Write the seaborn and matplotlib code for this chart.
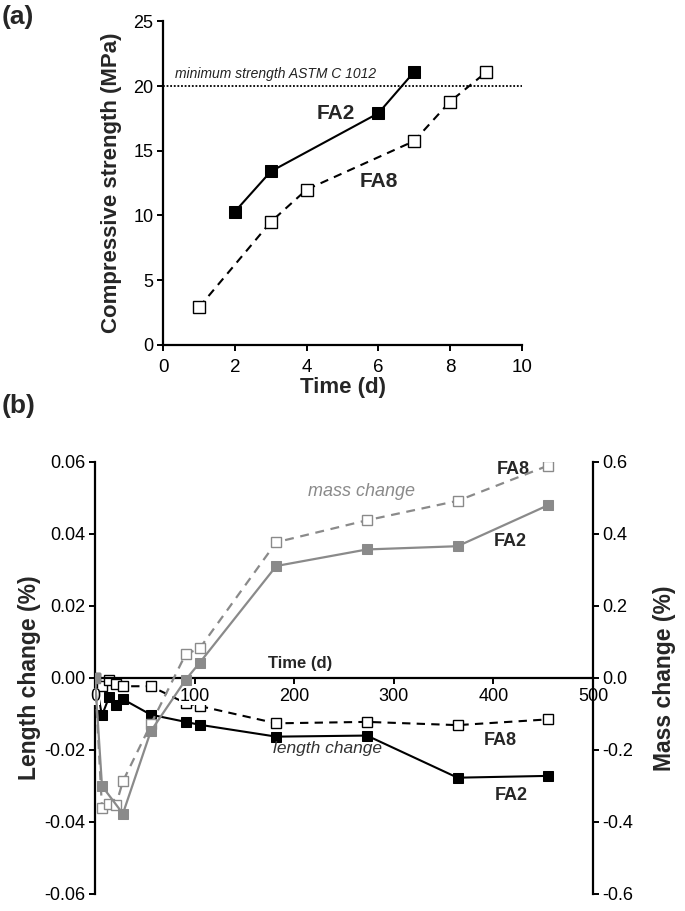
import matplotlib
matplotlib.use("Agg")
import matplotlib.pyplot as plt
import seaborn as sns
import numpy as np
import pandas as pd

# ---------------- data ----------------
# panel (a): compressive strength
days_fa2_a = [2, 3, 6, 7]
strength_fa2 = [10.3, 13.4, 17.9, 21.1]
days_fa8_a = [1, 3, 4, 7, 8, 9]
strength_fa8 = [2.9, 9.5, 12.0, 15.75, 18.8, 21.05]
astm_min = 20

# panel (b): length and mass change
days_b = [0, 7, 14, 21, 28, 56, 91, 105, 182, 273, 364, 455]
length_fa2 = [0.0, -0.0104, -0.0054, -0.0076, -0.0059, -0.0102, -0.0122, -0.0130, -0.0163, -0.0160, -0.0277, -0.0272]
length_fa8 = [0.0, -0.0023, -0.0006, -0.0018, -0.0023, -0.0023, -0.0070, -0.0078, -0.0126, -0.0122, -0.0131, -0.0115]
mass_days_fa2 = [0, 7, 28, 56, 91, 105, 182, 273, 364, 455]
mass_fa2 = [0.0, -0.300, -0.377, -0.148, -0.005, 0.042, 0.311, 0.357, 0.366, 0.480]
mass_days_fa8 = [0, 7, 14, 21, 28, 56, 91, 105, 182, 273, 364, 455]
mass_fa8 = [0.0, -0.361, -0.351, -0.353, -0.287, -0.129, 0.066, 0.082, 0.377, 0.438, 0.492, 0.590]

xticks_a = [0, 2, 4, 6, 8, 10]
yticks_a = [0, 5, 10, 15, 20, 25]
xticks_b = [0, 100, 200, 300, 400, 500]
yticks_len = [-0.06, -0.04, -0.02, 0.0, 0.02, 0.04, 0.06]
yticks_mass = [-0.6, -0.4, -0.2, 0.0, 0.2, 0.4, 0.6]

# ---------------- style ----------------
sns.set_theme(style="ticks")
plt.rcParams['font.family'] = ['Liberation Sans', 'DejaVu Sans']
plt.rcParams['axes.linewidth'] = 1.6
plt.rcParams['xtick.major.width'] = 1.4
plt.rcParams['ytick.major.width'] = 1.4
plt.rcParams['xtick.major.size'] = 4
plt.rcParams['ytick.major.size'] = 4

GRAY = '#8a8a8a'
TICK_FS = 13
LABEL_FS = 16

fig = plt.figure(figsize=(6.85, 9.11), dpi=100)

# ---------------- panel (a) ----------------
ax1 = fig.add_axes([0.2384, 0.6216, 0.5232, 0.3549])
df_a2 = pd.DataFrame({'t': days_fa2_a, 's': strength_fa2})
df_a8 = pd.DataFrame({'t': days_fa8_a, 's': strength_fa8})
sns.lineplot(data=df_a2, x='t', y='s', ax=ax1, color='black', marker='s', markersize=9,
             markeredgecolor='black', markerfacecolor='black', linewidth=1.5,
             estimator=None, sort=False)
sns.lineplot(data=df_a8, x='t', y='s', ax=ax1, color='black', marker='s', markersize=9,
             markeredgecolor='black', markerfacecolor='white', markeredgewidth=1.0,
             linewidth=1.5, linestyle=(0, (4, 3)), estimator=None, sort=False)
ax1.axhline(astm_min, color='black', linestyle=(0, (1, 1)), linewidth=1.3, zorder=1)
ax1.set_xlim(0, 10)
ax1.set_ylim(0, 25)
ax1.set_xticks(xticks_a)
ax1.set_yticks(yticks_a)
ax1.tick_params(labelsize=TICK_FS, colors='black', pad=3)
ax1.tick_params(axis='x', labelsize=13.5, pad=6)
ax1.set_xlabel('Time (d)', fontsize=LABEL_FS, fontweight='bold', labelpad=1)
ax1.set_ylabel('Compressive strength (MPa)', fontsize=LABEL_FS, fontweight='bold', labelpad=8)
sns.despine(ax=ax1)
for s in ['left', 'bottom']:
    ax1.spines[s].set_color('black')
ax1.text(0.33, 20.95, 'minimum strength ASTM C 1012', fontsize=10, fontstyle='italic',
         ha='left', va='center', color='#222222')
ax1.text(4.81, 17.9, 'FA2', fontsize=15, fontweight='bold', ha='center', va='center')
ax1.text(6.02, 12.6, 'FA8', fontsize=15, fontweight='bold', ha='center', va='center')
fig.text(0.003, 0.995, '(a)', fontsize=19, fontweight='bold', ha='left', va='top')

# ---------------- panel (b) ----------------
ax = fig.add_axes([0.1387, 0.0187, 0.7270, 0.4742])
ax2 = ax.twinx()

df_l2 = pd.DataFrame({'t': days_b, 'v': length_fa2})
df_l8 = pd.DataFrame({'t': days_b, 'v': length_fa8})
df_m2 = pd.DataFrame({'t': mass_days_fa2, 'v': mass_fa2})
df_m8 = pd.DataFrame({'t': mass_days_fa8, 'v': mass_fa8})

sns.lineplot(data=df_l8, x='t', y='v', ax=ax, color='black', marker='s', markersize=7,
             markeredgecolor='black', markerfacecolor='white', markeredgewidth=1.0,
             linewidth=1.5, linestyle=(0, (4, 3)), estimator=None, sort=False)
sns.lineplot(data=df_l2, x='t', y='v', ax=ax, color='black', marker='s', markersize=7,
             markeredgecolor='black', markerfacecolor='black', linewidth=1.5,
             estimator=None, sort=False)
sns.lineplot(data=df_m8, x='t', y='v', ax=ax2, color=GRAY, marker='s', markersize=7,
             markeredgecolor=GRAY, markerfacecolor='white', markeredgewidth=1.0,
             linewidth=1.6, linestyle=(0, (4, 3)), estimator=None, sort=False)
sns.lineplot(data=df_m2, x='t', y='v', ax=ax2, color=GRAY, marker='s', markersize=7,
             markeredgecolor=GRAY, markerfacecolor=GRAY, linewidth=1.6,
             estimator=None, sort=False)

ax.set_xlim(0, 500)
ax.set_ylim(-0.06, 0.06)
ax2.set_ylim(-0.6, 0.6)
ax.set_xticks(xticks_b)
ax.set_yticks(yticks_len)
ax.set_yticklabels([f'{v:.2f}' for v in yticks_len])
ax2.set_yticks(yticks_mass)
ax2.set_yticklabels([f'{v:.1f}' for v in yticks_mass])

for a in (ax, ax2):
    a.spines['top'].set_visible(False)
    a.set_xlabel('')
    a.set_ylabel('')
ax.spines['right'].set_visible(False)
ax.spines['bottom'].set_position(('data', 0))
ax2.spines['bottom'].set_visible(False)
ax2.spines['left'].set_visible(False)
ax2.spines['right'].set_color('black')
ax.spines['left'].set_color('black')
ax.spines['bottom'].set_color('black')

ax.tick_params(axis='both', labelsize=TICK_FS, colors='black', pad=3)
ax2.tick_params(axis='y', labelsize=TICK_FS, colors='black', pad=3)
ax.set_axisbelow(False)
for lbl in ax.get_xticklabels():
    lbl.set_bbox(dict(facecolor='white', edgecolor='none', pad=0))

ax.set_ylabel('Length change (%)', fontsize=16.5, fontweight='bold', labelpad=2)
ax2.set_ylabel('Mass change (%)', fontsize=16.5, fontweight='bold', labelpad=14)

ax.text(206, 0.0041, 'Time (d)', fontsize=12, fontweight='bold', ha='center', va='center')
ax.text(420, 0.0580, 'FA8', fontsize=13, fontweight='bold', ha='center', va='center')
ax.text(268, 0.0517, 'mass change', fontsize=13, fontstyle='italic', color=GRAY,
        ha='center', va='center')
ax.text(417, 0.0378, 'FA2', fontsize=13, fontweight='bold', ha='center', va='center')
ax.text(407, -0.0173, 'FA8', fontsize=13, fontweight='bold', ha='center', va='center')
ax.text(233, -0.0195, 'length change', fontsize=12.5, fontstyle='italic', color='#333333',
        ha='center', va='center')
ax.text(418, -0.0327, 'FA2', fontsize=13, fontweight='bold', ha='center', va='center')
fig.text(0.003, 0.567, '(b)', fontsize=19, fontweight='bold', ha='left', va='top')

fig.savefig('out.png', dpi=100)
